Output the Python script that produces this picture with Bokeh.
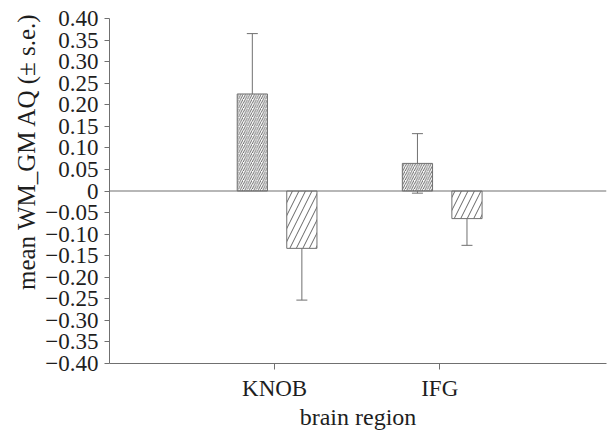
from bokeh.plotting import figure
from bokeh.models import ColumnDataSource, Whisker, TeeHead, FixedTicker, Span, Range1d, Title
from bokeh.embed import file_html
from bokeh.resources import INLINE

regions = ["KNOB", "IFG"]
region_pos = [1, 2]
series_a = [0.225, 0.064]      # first bar (dense hatch)
series_a_se = [0.14, 0.069]
series_b = [-0.133, -0.064]    # second bar (sparse hatch)
series_b_se = [0.12, 0.062]
y_ticks = [-0.40, -0.35, -0.30, -0.25, -0.20, -0.15, -0.10, -0.05, 0, 0.05, 0.10, 0.15, 0.20, 0.25, 0.30, 0.35, 0.40]
y_title = "mean WM_GM AQ (\u00b1 s.e.)"
x_title = "brain region"

FONT = "'Liberation Serif', 'Times New Roman', Times, serif"
GRAY = "#707070"
TXT = "#1e1e1e"

p = figure(width=608, height=432, output_backend="svg", toolbar_location=None,
           x_range=Range1d(0, 3.01), y_range=Range1d(-0.40, 0.40),
           min_border_left=109, min_border_right=2, min_border_top=18, min_border_bottom=68)
p.outline_line_color = None
p.xgrid.visible = False
p.ygrid.visible = False
p.background_fill_color = "white"
p.border_fill_color = "white"

off_a, off_b, w = -0.135, 0.165, 0.183
xa = [x + off_a for x in region_pos]
xb = [x + off_b for x in region_pos]

src_a = ColumnDataSource(dict(x=xa, top=series_a,
                              upper=[v + e for v, e in zip(series_a, series_a_se)],
                              lower=[v - e for v, e in zip(series_a, series_a_se)]))
src_b = ColumnDataSource(dict(x=xb, top=series_b,
                              upper=[v + e for v, e in zip(series_b, series_b_se)],
                              lower=[v - e for v, e in zip(series_b, series_b_se)]))

p.vbar(x="x", top="top", bottom=0, width=w, source=src_a, fill_color="white",
       line_color=GRAY, line_width=1, hatch_pattern="/", hatch_color="#555555",
       hatch_scale=4.5, hatch_weight=0.9)
p.vbar(x="x", top="top", bottom=0, width=w, source=src_b, fill_color="white",
       line_color=GRAY, line_width=1, hatch_pattern="/", hatch_color="#555555",
       hatch_scale=13, hatch_weight=0.9)

for src in (src_a, src_b):
    wk = Whisker(source=src, base="x", upper="upper", lower="lower",
                 line_color=GRAY, line_width=1,
                 upper_head=TeeHead(size=11, line_color=GRAY, line_width=1),
                 lower_head=TeeHead(size=11, line_color=GRAY, line_width=1))
    p.add_layout(wk)

p.add_layout(Span(location=0, dimension="width", line_color=GRAY, line_width=1.2))

# y axis
p.yaxis.ticker = FixedTicker(ticks=y_ticks)
overrides = {}
for t in y_ticks:
    if t == 0:
        overrides[t] = "0"
    elif t < 0:
        overrides[t] = "\u2212" + f"{-t:.2f}"
    else:
        overrides[t] = f"{t:.2f}"
p.yaxis.major_label_overrides = overrides
p.yaxis.major_label_text_font = FONT
p.yaxis.major_label_text_font_size = "23px"
p.yaxis.major_label_text_color = TXT
p.yaxis.axis_line_color = GRAY
p.yaxis.major_tick_line_color = GRAY
p.yaxis.major_tick_out = 5
p.yaxis.major_tick_in = 0
p.yaxis.minor_tick_line_color = None
p.yaxis.major_label_standoff = 6

# y title as a left-side title, anchored near the top as in the original
p.add_layout(Title(text=y_title, align="right", offset=-6, text_font=FONT,
                   text_font_size="25px", text_font_style="normal", text_color=TXT,
                   standoff=6), "left")

# x axis
p.xaxis.ticker = FixedTicker(ticks=region_pos)
p.xaxis.major_label_overrides = {pos: name for pos, name in zip(region_pos, regions)}
p.xaxis.axis_label = x_title
p.xaxis.axis_label_text_font = FONT
p.xaxis.axis_label_text_font_style = "normal"
p.xaxis.axis_label_text_font_size = "24px"
p.xaxis.axis_label_text_color = TXT
p.xaxis.axis_label_standoff = 0
p.xaxis.major_label_text_font = FONT
p.xaxis.major_label_text_font_size = "23px"
p.xaxis.major_label_text_color = TXT
p.xaxis.axis_line_color = GRAY
p.xaxis.major_tick_line_color = GRAY
p.xaxis.major_tick_out = 6
p.xaxis.major_tick_in = 0
p.xaxis.minor_tick_line_color = None
p.xaxis.major_label_standoff = 6

open("out.html", "w").write(file_html(p, INLINE))
